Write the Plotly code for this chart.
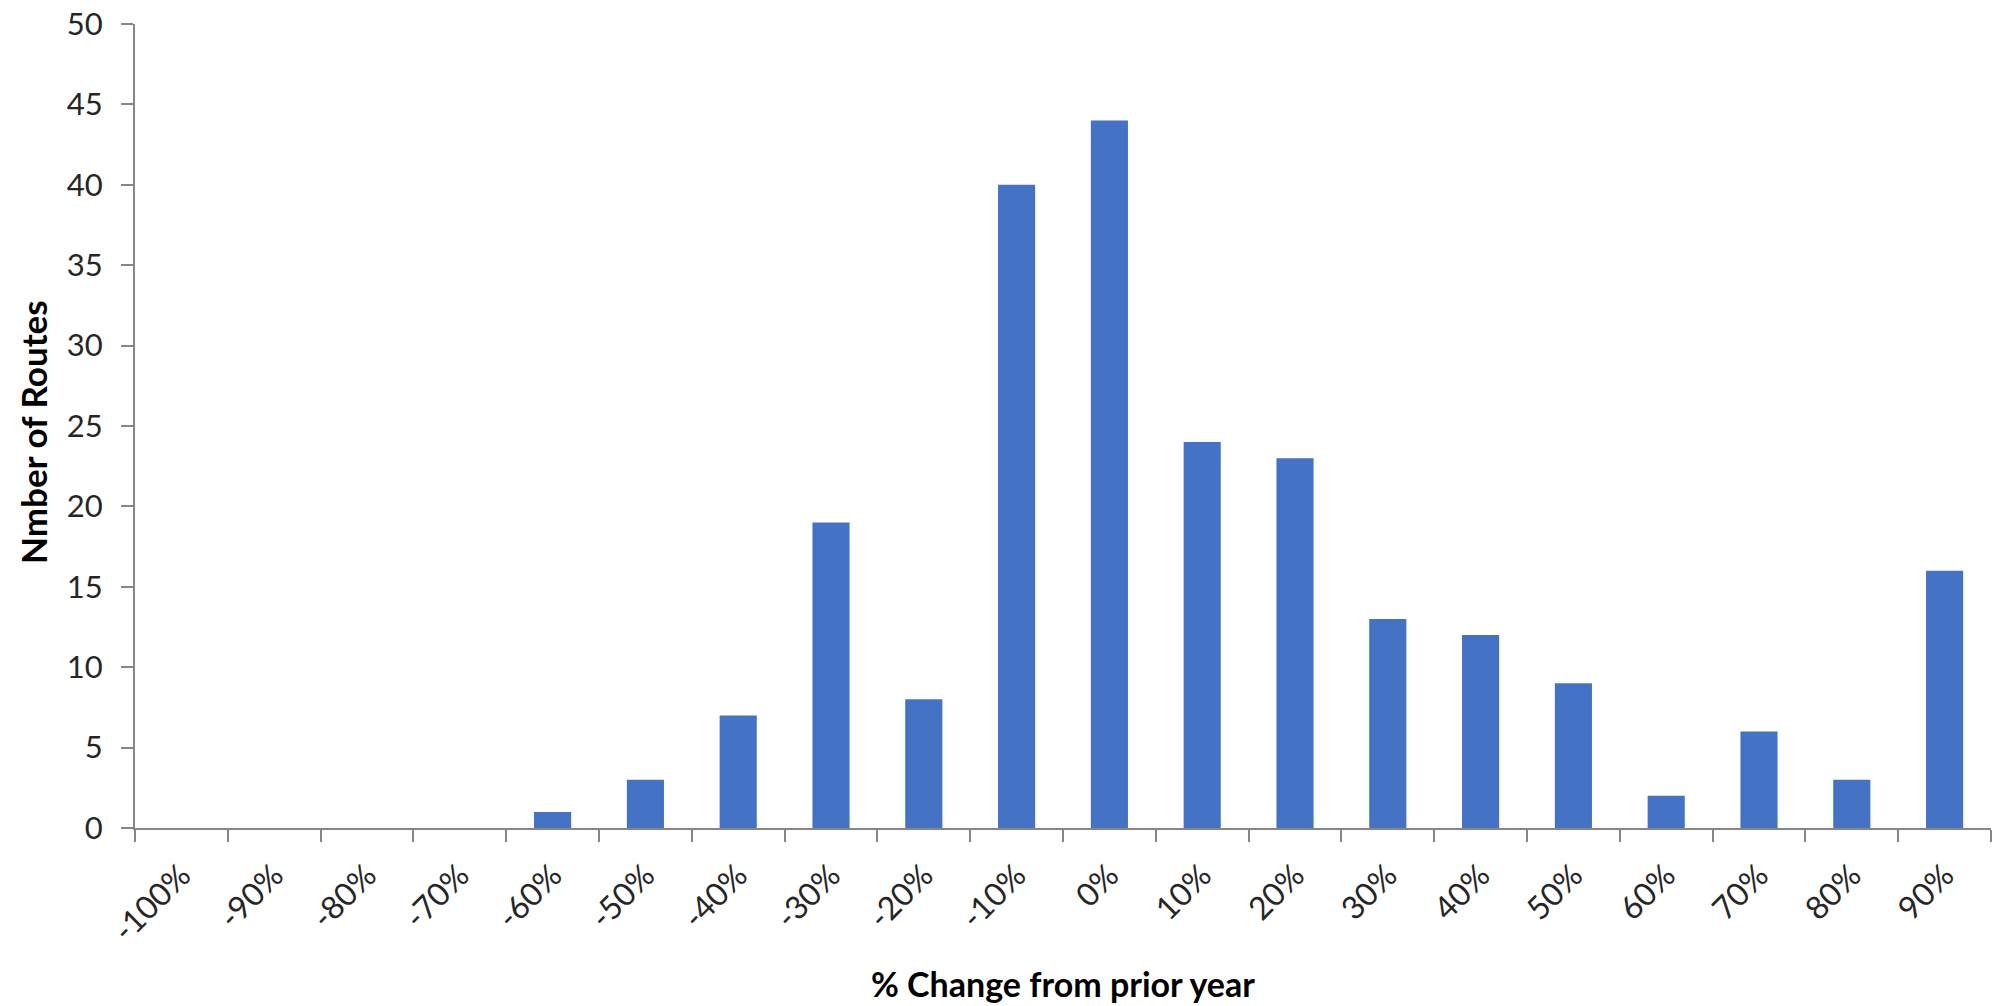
import plotly.graph_objects as go

# Histogram of year-over-year route changes
categories = ["-100%", "-90%", "-80%", "-70%", "-60%", "-50%", "-40%", "-30%", "-20%", "-10%",
              "0%", "10%", "20%", "30%", "40%", "50%", "60%", "70%", "80%", "90%"]
routes = [0, 0, 0, 0, 1, 3, 7, 19, 8, 40, 44, 24, 23, 13, 12, 9, 2, 6, 3, 16]
y_ticks = [0, 5, 10, 15, 20, 25, 30, 35, 40, 45, 50]

FONT = "Lato, 'Open Sans', sans-serif"
AXIS_GRAY = "#868686"

fig = go.Figure(
    go.Bar(
        x=categories,
        y=routes,
        marker=dict(color="#4472C4", line=dict(width=0)),
        hoverinfo="x+y",
    )
)

fig.update_layout(
    width=1992,
    height=1006,
    margin=dict(l=135, r=1, t=24, b=178),
    paper_bgcolor="white",
    plot_bgcolor="white",
    bargap=0.6,
    showlegend=False,
    font=dict(family=FONT, color="#262626", size=30),
    annotations=[
        dict(
            text="<b>Nmber of Routes</b>",
            xref="paper", yref="paper",
            x=-0.055, y=0.4925,
            xanchor="center", yanchor="middle",
            showarrow=False, textangle=-90,
            font=dict(family=FONT, size=35, color="#000000"),
        ),
        dict(
            text="<b>% Change from prior year</b>",
            xref="paper", yref="paper",
            x=0.5, y=-0.193,
            xanchor="center", yanchor="middle",
            showarrow=False,
            font=dict(family=FONT, size=34, color="#000000"),
        ),
    ],
)

fig.update_xaxes(
    type="category",
    tickson="boundaries",
    ticks="outside",
    ticklen=12,
    tickwidth=2,
    tickcolor=AXIS_GRAY,
    showline=True,
    linecolor=AXIS_GRAY,
    linewidth=2,
    showgrid=False,
    tickangle=-45,
    ticklabelstandoff=14,
    tickfont=dict(family=FONT, size=32, color="#262626"),
    zeroline=False,
)

fig.update_yaxes(
    range=[0, 50],
    tickmode="array",
    tickvals=y_ticks,
    ticks="outside",
    ticklen=12,
    tickwidth=2,
    tickcolor=AXIS_GRAY,
    showline=True,
    linecolor=AXIS_GRAY,
    linewidth=2,
    showgrid=False,
    zeroline=False,
    ticklabelstandoff=12,
    tickfont=dict(family=FONT, size=31, color="#262626"),
)

fig.write_html("out.html")
